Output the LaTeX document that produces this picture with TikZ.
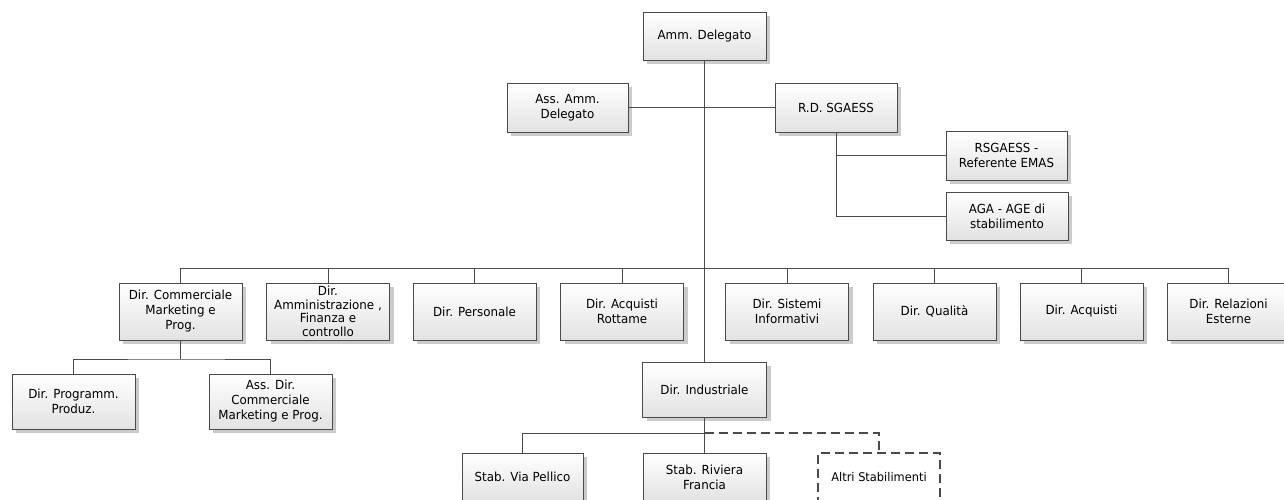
\documentclass[tikz,border=0pt]{standalone}
\usepackage{fontspec}
\setmainfont[FakeStretch=0.95]{DejaVu Sans}
\usetikzlibrary{shadows}
\definecolor{edge}{HTML}{4A4A4A}
\definecolor{boxbot}{HTML}{E2E2E2}
\definecolor{shad}{HTML}{CBCBCB}
\tikzset{
 orgbox/.style={draw=edge, line width=0.9pt, top color=white, bottom color=boxbot,
   drop shadow={shadow xshift=4pt, shadow yshift=-4pt, fill=shad, opacity=1},
   align=center, font=\fontsize{12.5}{15}\selectfont, inner sep=0pt,
   minimum width=123pt, minimum height=55pt},
 dashbox/.style={draw=edge, line width=2pt, dash pattern=on 9pt off 5pt, fill=white,
   align=center, font=\fontsize{12}{15}\selectfont, inner sep=0pt,
   minimum width=122pt, minimum height=48pt},
 link/.style={draw=edge, line width=0.9pt},
 dlink/.style={draw=edge, line width=2pt, dash pattern=on 9pt off 5pt},
}
\begin{document}
\begin{tikzpicture}[x=1pt,y=-1pt]
\useasboundingbox (0,0) rectangle (1284,499);
% top
\node[orgbox, minimum height=48pt] (amm) at (704.5,36) {Amm. Delegato};
\node[orgbox, minimum width=121pt, minimum height=49pt] (ass) at (567.5,107.5) {Ass. Amm.\\Delegato};
\node[orgbox, minimum width=122pt, minimum height=49pt] (rd) at (836,107.5) {R.D. SGAESS};
\node[orgbox, minimum width=121pt, minimum height=49pt] (rsg) at (1006.5,155.5) {RSGAESS -\\Referente EMAS};
\node[orgbox, minimum width=122pt, minimum height=48pt] (aga) at (1007,216) {AGA - AGE di\\stabilimento};
% row of directions
\node[orgbox, minimum height=57pt] (c1) at (180.5,311.5) {Dir. Commerciale\\Marketing e\\Prog.};
\node[orgbox, minimum height=57pt, font=\fontsize{12.5}{13.5}\selectfont] (c2) at (328,311.5) {Dir.\\Amministrazione ,\\Finanza e\\controllo};
\node[orgbox, minimum height=57pt] (c3) at (474.5,311.5) {Dir. Personale};
\node[orgbox, minimum height=57pt] (c4) at (622,311.5) {Dir. Acquisti\\Rottame};
\node[orgbox, minimum height=57pt] (c5) at (787,311.5) {Dir. Sistemi\\Informativi};
\node[orgbox, minimum height=57pt] (c6) at (934.5,311.5) {Dir. Qualità};
\node[orgbox, minimum height=57pt] (c7) at (1081.5,311.5) {Dir. Acquisti};
\node[orgbox, minimum height=57pt] (c8) at (1228.5,311.5) {Dir. Relazioni\\Esterne};
% sub row
\node[orgbox] (s1) at (73.5,401.5) {Dir. Programm.\\Produz.};
\node[orgbox] (s2) at (270.5,401.5) {Ass. Dir.\\Commerciale\\Marketing e Prog.};
\node[orgbox, minimum width=124pt] (ind) at (704.5,389.5) {Dir. Industriale};
% stab row
\node[orgbox, minimum width=121pt, minimum height=48pt] (st1) at (522.5,477) {Stab. Via Pellico};
\node[orgbox, minimum height=48pt] (st2) at (704.5,477) {Stab. Riviera\\Francia};
\node[dashbox] (st3) at (879,477) {Altri Stabilimenti};
% buses
\coordinate (bus) at (704.5,268);
\coordinate (sbus) at (180.5,359);
\coordinate (tbus) at (704.5,433);
% connectors
\draw[link] (amm.south) -- (ind.north);
\draw[link] (ass.east) -- (rd.west);
\draw[link] (rd.south) |- (aga.west);
\draw[link] (rd.south |- rsg.west) -- (rsg.west);
\draw[link] (c1.north |- bus) -- (c8.north |- bus);
\foreach \n in {c1,c2,c3,c4,c5,c6,c7,c8} {\draw[link] (\n.north |- bus) -- (\n.north);}
\draw[link] (c1.south) -- (sbus);
\draw[link] (s1.north) |- (sbus) -| (s2.north);
\draw[link] (ind.south) -- (st2.north);
\draw[link] (st1.north) |- (tbus);
\draw[dlink] (tbus) -| (st3.north);
\end{tikzpicture}
\end{document}
